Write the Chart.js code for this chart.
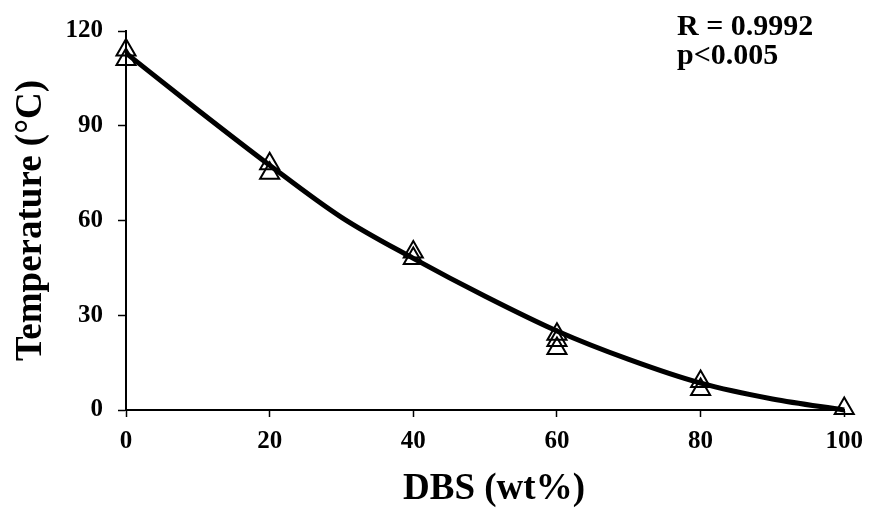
<!DOCTYPE html>
<html>
<head>
<meta charset="utf-8">
<script src="https://cdn.jsdelivr.net/npm/chart.js@4/dist/chart.umd.min.js"></script>
<style>
  html, body { margin: 0; padding: 0; background: #fff; }
  #wrap { width: 873px; height: 509px; }
</style>
</head>
<body>
<div id="wrap"><canvas id="c" width="873" height="509"></canvas></div>
<script>
// Measured data (DBS wt% vs temperature)
const dbsValues = [0, 0, 20, 20, 40, 40, 60, 60, 60, 80, 80, 100];
const tempValues = [114, 111, 78, 75, 50, 48, 24, 22, 19.5, 9, 6.5, 0.5];
// Fitted curve
const fitDbs = [0, 10, 20, 30, 40, 50, 60, 70, 80, 90, 100];
const fitTemps = [113, 95, 77.5, 61, 48, 36, 25, 16, 8.5, 3.5, 0];
// Tick labels
const xTicks = [0, 20, 40, 60, 80, 100];
const yTicks = [0, 30, 60, 90, 120];
// Annotation texts
const statLines = ['R = 0.9992', 'p<0.005'];
const xTitle = 'DBS (wt%)';
const yTitle = 'Temperature (\u00B0C)';

const FONT = '"Liberation Serif", "Times New Roman", serif';

const statsPlugin = {
  id: 'stats',
  afterDraw(chart) {
    const ctx = chart.ctx;
    ctx.save();
    ctx.fillStyle = '#000';
    ctx.font = 'bold 30px ' + FONT;
    ctx.textAlign = 'left';
    ctx.textBaseline = 'alphabetic';
    ctx.fillText(statLines[0], 677, 35);
    ctx.fillText(statLines[1], 677, 64);
    ctx.restore();
  }
};

new Chart(document.getElementById('c'), {
  type: 'scatter',
  data: {
    datasets: [
      {
        type: 'scatter',
        data: dbsValues.map((x, i) => ({ x: x, y: tempValues[i] })),
        pointStyle: 'triangle',
        pointRadius: 11,
        pointBorderWidth: 2,
        borderColor: '#000',
        backgroundColor: 'rgba(0,0,0,0)',
        clip: false,
        order: 1
      },
      {
        type: 'line',
        data: fitDbs.map((x, i) => ({ x: x, y: fitTemps[i] })),
        borderColor: '#000',
        borderWidth: 5,
        pointRadius: 0,
        fill: false,
        cubicInterpolationMode: 'monotone',
        clip: false,
        order: 2
      }
    ]
  },
  options: {
    responsive: false,
    animation: false,
    layout: { padding: { left: 0, right: 27, top: 31, bottom: 0 } },
    plugins: { legend: { display: false }, tooltip: { enabled: false } },
    scales: {
      x: {
        type: 'linear',
        min: 0, max: 100,
        afterBuildTicks: s => { s.ticks = xTicks.map(v => ({ value: v })); },
        afterFit: s => { s.height = 99; },
        grid: { drawOnChartArea: false, drawTicks: true, tickLength: 7, color: '#000', tickWidth: 1.5 },
        border: { color: '#000', width: 2 },
        ticks: { color: '#000', font: { family: FONT, weight: 'bold', size: 25 }, padding: 10, maxRotation: 0 },
        title: { display: false }
      },
      y: {
        type: 'linear',
        min: 0, max: 120,
        afterBuildTicks: s => { s.ticks = yTicks.map(v => ({ value: v })); },
        afterFit: s => { s.width = 126; },
        grid: { drawOnChartArea: false, drawTicks: true, tickLength: 8, color: '#000', tickWidth: 1.5 },
        border: { color: '#000', width: 2 },
        ticks: { color: '#000', font: { family: FONT, weight: 'bold', size: 25 }, padding: 15 },
        title: { display: true, text: yTitle, color: '#000', font: { family: FONT, weight: 'bold', size: 37 }, padding: { top: 9, bottom: 0 } }
      }
    }
  },
  plugins: [statsPlugin, {
    id: 'xTitle',
    afterDraw(chart) {
      const ctx = chart.ctx;
      ctx.save();
      ctx.fillStyle = '#000';
      ctx.font = 'bold 37px ' + FONT;
      ctx.textAlign = 'center';
      ctx.textBaseline = 'middle';
      ctx.fillText(xTitle, 494, 489);
      ctx.restore();
    }
  }]
});
</script>
</body>
</html>
